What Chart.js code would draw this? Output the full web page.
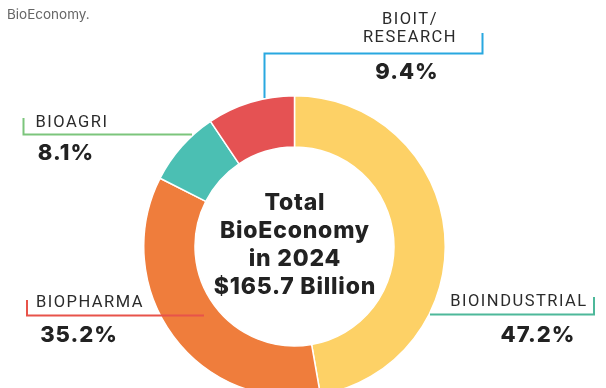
<!DOCTYPE html>
<html>
<head>
<meta charset="utf-8">
<script src="https://cdn.jsdelivr.net/npm/chart.js@4"></script>
<style>
  html, body { margin: 0; padding: 0; background: #fff; overflow: hidden; }
  #wrap { position: relative; width: 606px; height: 400px; }
</style>
</head>
<body>
<div id="wrap"><canvas id="chart"></canvas></div>
<script>
// Данные
const categories = ['BIOINDUSTRIAL', 'BIOPHARMA', 'BIOAGRI', 'BIOIT/RESEARCH'];
const shares = [47.2, 35.2, 8.1, 9.4];
const sliceColors = ['#fdd166', '#ef7d3c', '#4bbfb3', '#e55253'];
const centerLines = ['Total', 'BioEconomy', 'in 2024', '$165.7 Billion'];

// Подписи с выносками
const callouts = [
  { name: ['BIOINDUSTRIAL'], value: '47.2%', color: '#4db89a', textX: 519, nameY: 302, valueX: 538, valueY: 335,
    path: [[430, 314.5], [594, 314.5], [594, 297]] },
  { name: ['BIOPHARMA'], value: '35.2%', color: '#e8534a', textX: 90, nameY: 303, valueX: 79, valueY: 335,
    path: [[27, 300], [27, 315.5], [204, 315.5]] },
  { name: ['BIOAGRI'], value: '8.1%', color: '#7cc57c', textX: 72, nameY: 123, valueX: 66, valueY: 153,
    path: [[23.5, 118], [23.5, 134.5], [192, 134.5]] },
  { name: ['BIOIT/', 'RESEARCH'], value: '9.4%', color: '#29a8e0', textX: 410, nameY: 20, valueX: 407, valueY: 72,
    path: [[264.5, 98], [264.5, 53.5], [482.5, 53.5], [482.5, 33]] }
];

const labelsPlugin = {
  id: 'labelsPlugin',
  afterDraw(chart) {
    const ctx = chart.ctx;
    ctx.save();

    // Источник
    ctx.fillStyle = '#666';
    ctx.font = '13.5px "Inter", sans-serif';
    ctx.textAlign = 'left';
    ctx.textBaseline = 'middle';
    ctx.fillText('BioEconomy.', 7, 15);

    // Текст в центре
    const arc = chart.getDatasetMeta(0).data[0];
    ctx.fillStyle = '#222';
    ctx.font = '800 23px "Inter", sans-serif';
    ctx.letterSpacing = '0.8px';
    ctx.textAlign = 'center';
    centerLines.forEach((line, i) => {
      ctx.fillText(line, arc.x + 0.4, 203 + i * 28);
    });

    // Выноски
    callouts.forEach(c => {
      ctx.strokeStyle = c.color;
      ctx.lineWidth = 2;
      ctx.beginPath();
      c.path.forEach((p, i) => i ? ctx.lineTo(p[0], p[1]) : ctx.moveTo(p[0], p[1]));
      ctx.stroke();

      ctx.fillStyle = '#2b2b2b';
      ctx.font = '16.5px "Roboto", sans-serif';
      ctx.letterSpacing = '1.5px';
      c.name.forEach((n, i) => ctx.fillText(n, c.textX, c.nameY + i * 18));

      ctx.fillStyle = '#222';
      ctx.font = '800 22px "Inter", sans-serif';
      ctx.letterSpacing = '1px';
      ctx.fillText(c.value, c.valueX, c.valueY);
    });
    ctx.restore();
  }
};

new Chart(document.getElementById('chart'), {
  type: 'doughnut',
  data: {
    labels: categories,
    datasets: [{
      data: shares,
      backgroundColor: sliceColors,
      borderColor: '#ffffff',
      borderWidth: 1.5
    }]
  },
  options: {
    responsive: true,
    maintainAspectRatio: false,
    animation: false,
    cutout: '66%',
    layout: { padding: { left: 143, right: 160, top: 95, bottom: 2 } },
    plugins: {
      legend: { display: false },
      tooltip: { enabled: false }
    }
  },
  plugins: [labelsPlugin]
});
</script>
</body>
</html>
